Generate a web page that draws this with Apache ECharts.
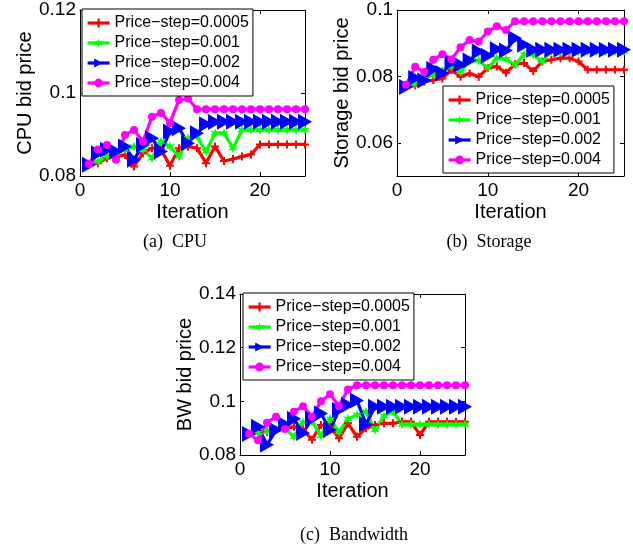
<!DOCTYPE html>
<html>
<head>
<meta charset="utf-8">
<script src="https://cdn.jsdelivr.net/npm/echarts@6/dist/echarts.min.js"></script>
<style>html,body{margin:0;padding:0;background:#fff;}#c{width:633px;height:544px;}</style>
</head>
<body>
<div id="c"></div>
<script>
// ---- data ----
const iterations = [1,2,3,4,5,6,7,8,9,10,11,12,13,14,15,16,17,18,19,20,21,22,23,24,25];
const seriesNames = ['Price\u2212step=0.0005','Price\u2212step=0.001','Price\u2212step=0.002','Price\u2212step=0.004'];

const cpu0005 = [0.0828,0.0831,0.0843,0.0847,0.0851,0.0823,0.0855,0.0867,0.0863,0.0825,0.0867,0.0871,0.0867,0.0831,0.0871,0.0836,0.0841,0.0847,0.0852,0.0876,0.0876,0.0876,0.0876,0.0876,0.0876];
const cpu001  = [0.0828,0.0835,0.0847,0.0855,0.0863,0.0871,0.0863,0.0843,0.0883,0.0871,0.0847,0.0891,0.0895,0.0859,0.0903,0.0903,0.0867,0.0911,0.0911,0.0911,0.0911,0.0911,0.0911,0.0911,0.0911];
const cpu002  = [0.0827,0.0855,0.0863,0.0859,0.0871,0.0839,0.0875,0.0891,0.0859,0.0907,0.0915,0.0879,0.0903,0.0925,0.0930,0.0931,0.0931,0.0931,0.0931,0.0931,0.0931,0.0931,0.0931,0.0931,0.0931];
const cpu004  = [0.0829,0.0864,0.0875,0.0839,0.0899,0.0911,0.0883,0.0943,0.0952,0.0928,0.0983,0.0987,0.0961,0.0961,0.0961,0.0961,0.0961,0.0961,0.0961,0.0961,0.0961,0.0961,0.0961,0.0961,0.0961];

const sto0005 = [0.0768,0.0773,0.0784,0.0789,0.0794,0.0819,0.0799,0.0809,0.0799,0.0825,0.0830,0.0811,0.0837,0.0840,0.0816,0.0845,0.0850,0.0855,0.0855,0.0845,0.0820,0.0820,0.0820,0.0820,0.0820];
const sto001  = [0.0768,0.0778,0.0792,0.0805,0.0818,0.0830,0.0814,0.0850,0.0848,0.0825,0.0855,0.0852,0.0835,0.0866,0.0866,0.0845,0.0875,0.0875,0.0875,0.0875,0.0875,0.0875,0.0875,0.0875,0.0875];
const sto002  = [0.0768,0.0795,0.0788,0.0822,0.0810,0.0842,0.0835,0.0848,0.0875,0.0862,0.0882,0.0878,0.0915,0.0895,0.0880,0.0880,0.0880,0.0880,0.0880,0.0880,0.0880,0.0880,0.0880,0.0880,0.0880];
const sto004  = [0.0775,0.0829,0.0813,0.0850,0.0867,0.0852,0.0888,0.0910,0.0905,0.0935,0.0951,0.0940,0.0966,0.0966,0.0966,0.0966,0.0966,0.0966,0.0966,0.0966,0.0966,0.0966,0.0966,0.0966,0.0966];

const bw0005 = [0.0878,0.0887,0.0887,0.0893,0.0899,0.0905,0.0895,0.0857,0.0912,0.0905,0.0862,0.0918,0.0868,0.0900,0.0912,0.0918,0.0918,0.0924,0.0924,0.0875,0.0924,0.0924,0.0924,0.0924,0.0924];
const bw001  = [0.0878,0.0882,0.0888,0.0895,0.0900,0.0868,0.0922,0.0925,0.0872,0.0935,0.0885,0.0935,0.0949,0.0961,0.0893,0.0945,0.0962,0.0914,0.0914,0.0914,0.0914,0.0914,0.0914,0.0914,0.0914];
const bw002  = [0.0878,0.0905,0.0838,0.0893,0.0915,0.0935,0.0882,0.0935,0.0955,0.0893,0.0968,0.0986,0.1003,0.0915,0.0980,0.0980,0.0980,0.0980,0.0980,0.0980,0.0980,0.0980,0.0980,0.0980,0.0980];
const bw004  = [0.0879,0.0855,0.0920,0.0943,0.0897,0.0961,0.0982,0.0943,0.1000,0.1026,0.0983,0.1044,0.1060,0.1060,0.1060,0.1060,0.1060,0.1060,0.1060,0.1060,0.1060,0.1060,0.1060,0.1060,0.1060];

const xTicks = [0,10,20];
const cpuTicks = [0.08,0.1,0.12];
const stoTicks = [0.06,0.08,0.1];
const bwTicks = [0.08,0.1,0.12,0.14];
const yNames = ['CPU bid price','Storage bid price','BW bid price'];
const captions = ['(a)  CPU','(b)  Storage','(c)  Bandwidth'];

// ---- styles ----
const FONT = 'Liberation Sans, Arial, sans-serif';
const SERIF = '18px "Liberation Serif", "Times New Roman", serif';
function starPath(n, ro, ri){
  let d='';
  for(let k=0;k<2*n;k++){
    const a=k*Math.PI/n-Math.PI/2, r=(k%2)?ri:ro;
    d+=(k?'L':'M')+(ro+r*Math.cos(a)).toFixed(2)+','+(ro+r*Math.sin(a)).toFixed(2);
  }
  return 'path://'+d+'Z';
}
const styles = [
  {color:'#ff0000', symbol:'path://M3,0H5V3H8V5H5V8H3V5H0V3H3Z', size:8},
  {color:'#00ff00', symbol:starPath(6,5,2), size:10},
  {color:'#0000ff', symbol:'path://M0,0L10,5L0,10Z', size:[14,16]},
  {color:'#ff00ff', symbol:'circle', size:8}
];

const grids = [
  {left:80, top:10, width:225, height:166},
  {left:397, top:10, width:227, height:166},
  {left:240, top:294, width:225, height:161}
];
const yRanges = [[0.08,0.12],[0.05,0.1],[0.08,0.14]];
const yTickSets = [cpuTicks, stoTicks, bwTicks];
const dataSets = [[cpu0005,cpu001,cpu002,cpu004],[sto0005,sto001,sto002,sto004],[bw0005,bw001,bw002,bw004]];
const legendPos = [{left:82, top:9},{left:443, top:86},{left:243, top:293}];

const axisLine = {show:true, onZero:false, lineStyle:{color:'#000', width:1}};
const xAxes = [], yAxes = [], series = [], legends = [];
for(let g=0; g<3; g++){
  xAxes.push({type:'value', gridIndex:g, min:0, max:25, position:'bottom',
    axisLine, splitLine:{show:false},
    axisTick:{show:true, inside:true, length:4, customValues:xTicks, lineStyle:{color:'#000'}},
    axisLabel:{customValues:xTicks, fontSize:19, color:'#000', fontFamily:FONT, margin:5},
    name:'Iteration', nameLocation:'middle', nameGap:26,
    nameTextStyle:{fontSize:20, color:'#000', fontFamily:FONT}});
  yAxes.push({type:'value', gridIndex:g, min:yRanges[g][0], max:yRanges[g][1], position:'left',
    axisLine, splitLine:{show:false},
    axisTick:{show:true, inside:true, length:4, customValues:yTickSets[g], lineStyle:{color:'#000'}},
    axisLabel:{customValues:yTickSets[g], fontSize:19, color:'#000', fontFamily:FONT, margin:4,
      formatter: v => String(+v.toFixed(4))},
    name:yNames[g], nameLocation:'middle', nameGap:44,
    nameTextStyle:{fontSize:20, color:'#000', fontFamily:FONT}});
}
for(let g=0; g<3; g++){
  xAxes.push({type:'value', gridIndex:g, min:0, max:25, position:'top',
    axisLine, splitLine:{show:false}, axisLabel:{show:false},
    axisTick:{show:true, inside:true, length:4, customValues:xTicks, lineStyle:{color:'#000'}}});
  yAxes.push({type:'value', gridIndex:g, min:yRanges[g][0], max:yRanges[g][1], position:'right',
    axisLine, splitLine:{show:false}, axisLabel:{show:false},
    axisTick:{show:true, inside:true, length:4, customValues:yTickSets[g], lineStyle:{color:'#000'}}});
}
for(let g=0; g<3; g++){
  for(let s=0; s<4; s++){
    const st = styles[s];
    series.push({type:'line', name:seriesNames[s], xAxisIndex:g, yAxisIndex:g,
      data: iterations.map((x,i)=>[x, dataSets[g][s][i]]),
      symbol:st.symbol, symbolSize:st.size, showAllSymbol:true,
      lineStyle:{color:st.color, width:3.2}, itemStyle:{color:st.color, borderWidth:0},
      emphasis:{disabled:true}, animation:false});
  }
  legends.push({show:true, orient:'vertical', left:legendPos[g].left, top:legendPos[g].top,
    data:seriesNames, backgroundColor:'#fff', borderColor:'#000', borderWidth:1, borderRadius:0,
    padding:[6,4,5,4], itemGap:4, itemWidth:22, itemHeight:11, selectedMode:false,
    lineStyle:{width:3.2},
    textStyle:{fontSize:16, color:'#000', fontFamily:FONT, lineHeight:16}});
}

const chart = echarts.init(document.getElementById('c'), null, {renderer:'canvas'});
chart.setOption({
  animation:false,
  backgroundColor:'#fff',
  grid: grids.map(g=>Object.assign({containLabel:false}, g)),
  xAxis: xAxes, yAxis: yAxes, series, legend: legends,
  graphic: [
    {type:'text', style:{text:captions[0], x:175, y:242, align:'center', verticalAlign:'middle', font:SERIF, fill:'#000'}},
    {type:'text', style:{text:captions[1], x:489, y:242, align:'center', verticalAlign:'middle', font:SERIF, fill:'#000'}},
    {type:'text', style:{text:captions[2], x:354, y:535, align:'center', verticalAlign:'middle', font:SERIF, fill:'#000'}}
  ]
});
</script>
</body>
</html>
